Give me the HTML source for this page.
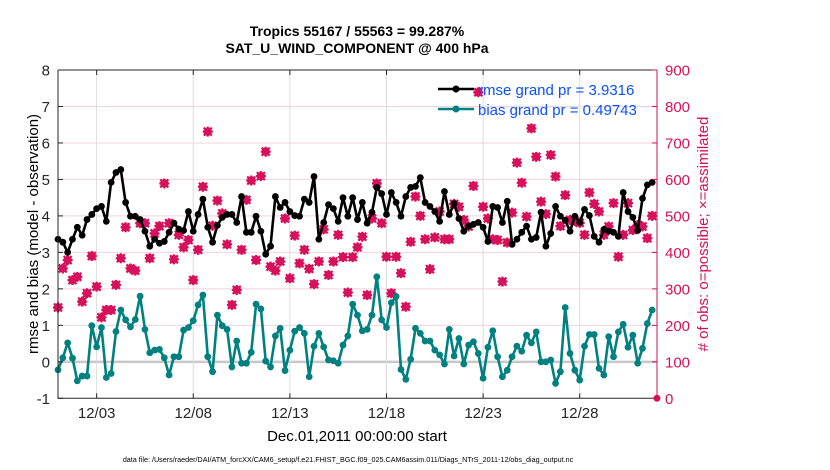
<!DOCTYPE html>
<html><head><meta charset="utf-8"><style>
body{margin:0;background:#fff;}
svg{display:block;font-family:"Liberation Sans",Arial,sans-serif;}
</style></head><body>
<svg id="chart" width="830" height="470" viewBox="0 0 830 470" xmlns="http://www.w3.org/2000/svg">
<rect width="830" height="470" fill="#fff"/>
<text x="357" y="36" text-anchor="middle" font-size="14" font-weight="bold">Tropics 55167 / 55563 = 99.287%</text>
<text x="357" y="53" text-anchor="middle" font-size="14" font-weight="bold">SAT_U_WIND_COMPONENT @ 400 hPa</text>
<g id="grid"></g>
<g id="marks"></g>
<g id="axes"></g>
<text transform="translate(38,234) rotate(-90)" text-anchor="middle" font-size="15">rmse and bias (model - observation)</text>
<text transform="translate(708,234) rotate(-90)" text-anchor="middle" font-size="15" fill="#d6105a"># of obs: o=possible; ×=assimilated</text>
<text x="357" y="441" text-anchor="middle" font-size="15">Dec.01,2011 00:00:00 start</text>
<text x="348" y="462" text-anchor="middle" font-size="7.2">data file: /Users/raeder/DAI/ATM_forcXX/CAM6_setup/f.e21.FHIST_BGC.f09_025.CAM6assim.011/Diags_NTrS_2011-12/obs_diag_output.nc</text>
<g id="legend">
  <line x1="438" y1="89" x2="474" y2="89" stroke="#000" stroke-width="2.5"/>
  <circle cx="456" cy="89" r="3.5" fill="#000"/>
  <text x="478" y="95" font-size="15" fill="#0a50ff">rmse grand pr = 3.9316</text>
  <line x1="438" y1="109" x2="474" y2="109" stroke="#008080" stroke-width="2.5"/>
  <circle cx="456" cy="109" r="3.5" fill="#008080"/>
  <text x="478" y="115" font-size="15" fill="#0a50ff">bias grand pr = 0.49743</text>
</g>
</svg>
<script>
const rmse=[3.36,3.28,3.0,3.36,3.69,3.47,3.9,4.04,4.2,4.26,3.85,4.92,5.19,5.27,4.37,3.99,3.99,3.9,3.58,3.17,3.36,3.25,3.3,3.55,3.8,3.64,3.6,4.12,3.58,4.04,4.46,
3.69,3.28,3.74,3.96,4.04,4.04,3.82,4.53,3.55,3.55,3.99,3.58,2.95,3.17,4.53,4.23,4.37,4.12,4.01,3.99,4.46,4.37,5.08,3.36,3.82,4.31,4.2,3.85,4.5,3.99,
4.5,3.9,4.37,3.8,4.1,4.78,4.61,4.04,4.64,4.37,3.99,4.53,4.78,4.81,5.05,4.37,4.26,4.12,3.85,4.67,4.04,4.34,3.93,3.58,3.72,3.77,3.82,3.69,3.3,4.26,
4.23,3.82,4.4,3.22,3.36,3.55,3.72,3.36,3.41,4.1,3.17,3.52,4.26,3.99,3.88,3.58,3.99,3.82,4.18,4.01,3.44,3.28,3.63,3.58,3.55,3.44,4.64,4.12,
3.96,3.6,4.48,4.85,4.92];
const bias=[-0.22,0.11,0.52,0.1,-0.52,-0.39,-0.39,0.99,0.41,0.94,-0.43,-0.32,0.83,1.42,1.15,0.96,1.16,1.8,0.89,0.25,0.32,0.34,0.11,-0.36,0.14,0.14,0.87,0.94,1.13,1.56,1.83,
0.14,-0.27,1.28,0.99,0.89,-0.14,0.57,-0.04,-0.04,0.26,1.58,1.45,0.02,-0.14,0.71,0.92,-0.24,0.32,0.84,0.94,0.78,-0.41,0.43,0.78,0.41,0.05,0.03,-0.04,0.46,0.71,
1.58,1.28,0.85,0.89,1.28,2.33,1.15,0.94,1.62,1.79,-0.21,-0.48,0.07,0.92,0.78,0.57,0.57,0.32,0.19,-0.06,0.89,0.16,0.64,-0.06,0.46,0.55,0.23,-0.45,0.4,0.85,
0.14,-0.41,-0.23,0.14,0.43,0.29,0.73,0.52,0.82,0.0,0.0,0.05,-0.59,-0.27,1.49,0.23,-0.23,-0.5,0.43,0.75,0.75,-0.18,-0.36,0.69,0.14,0.82,1.03,0.4,
0.73,-0.04,0.37,1.05,1.42];
const nPossible=[249,356,379,324,333,265,288,390,306,222,242,242,311,384,469,356,350,480,480,384,452,472,589,480,381,448,414,434,324,407,580,
731,473,542,507,422,256,297,407,544,597,379,609,676,361,350,375,493,329,446,370,407,355,313,375,463,338,375,448,387,290,
387,414,443,283,493,589,480,388,288,388,343,251,429,553,500,436,354,441,512,436,436,533,525,489,471,582,839,525,493,436,
434,320,427,509,646,591,498,740,662,539,505,667,608,472,557,489,486,481,448,564,533,512,448,471,535,388,448,535,
461,475,471,439,500];
const nAssim=nPossible.slice();
const yTicks=[-1,0,1,2,3,4,5,6,7,8];
const rTicks=[0,100,200,300,400,500,600,700,800,900];
const xTickDays=[2,7,12,17,22,27];
const xTickLabels=["12/03","12/08","12/13","12/18","12/23","12/28"];

const L=58,R=657,T=70,B=398.3,NS="http://www.w3.org/2000/svg";
const xDay=d=>L+(d/31)*(R-L);
const xIdx=i=>xDay(i*0.25);
const yL=v=>B-(v+1)/9*(B-T);
const yR=v=>B-v/900*(B-T);
function mk(tag,attrs,parent){const e=document.createElementNS(NS,tag);for(const k in attrs)e.setAttribute(k,attrs[k]);parent.appendChild(e);return e;}
const grid=document.getElementById('grid'),marks=document.getElementById('marks'),axes=document.getElementById('axes');

rTicks.forEach(v=>{if(v===0||v===900)return;
  const ln=mk('line',{x1:L,x2:R,y1:yR(v),y2:yR(v),stroke:v===100?'#c8c8c8':'#f4d2df','stroke-width':v===100?2.5:1},grid);
  
  
});
xTickDays.forEach(d=>{
  const ln=mk('line',{x1:xDay(d),x2:xDay(d),y1:T,y2:B,stroke:'#dcdcdc','stroke-width':1},grid);
  
  
});

// obs count markers
const red='#d6105a';
nPossible.forEach((v,i)=>{
  const x=xIdx(i),y=yR(v);
  const c=mk('circle',{cx:x,cy:y,r:3.2,fill:'none',stroke:red,'stroke-width':2},marks);
  
  
});
nAssim.forEach((v,i)=>{
  const x=xIdx(i),y=yR(v),s=4;
  const p=mk('path',{d:`M${x-s},${y-s}L${x+s},${y+s}M${x-s},${y+s}L${x+s},${y-s}M${x},${y-s-1}L${x},${y+s+1}M${x-s-1},${y}L${x+s+1},${y}`,stroke:red,'stroke-width':2.2},marks);
  
  
});
const zc=mk('circle',{cx:R,cy:yR(0),r:3.5,fill:red},marks);



function series(arr,color,name){
  const pts=arr.map((v,i)=>xIdx(i).toFixed(1)+','+yL(v).toFixed(1)).join(' ');
  const pl=mk('polyline',{points:pts,fill:'none',stroke:color,'stroke-width':2.6,'stroke-linejoin':'round'},marks);
  
  
  arr.forEach((v,i)=>{
    const c=mk('circle',{cx:xIdx(i),cy:yL(v),r:3.4,fill:color},marks);
    
    
  });
}
series(bias,'#008080','bias');
series(rmse,'#000000','rmse');

// axes
const box=mk('path',{d:`M${L},${T}L${R},${T}M${L},${T}L${L},${B}L${R},${B}`,stroke:'#262626','stroke-width':1,fill:'none'},axes);


const rax=mk('line',{x1:R,x2:R,y1:T,y2:B,stroke:red,'stroke-width':1},axes);


yTicks.forEach(v=>{
  const y=yL(v);
  mk('line',{x1:L,x2:L+5,y1:y,y2:y,stroke:'#262626'},axes);
  const t=mk('text',{x:L-8,y:y+5.5,'text-anchor':'end','font-size':15,fill:'#262626'},axes);
  t.textContent=v;
  
  
});
rTicks.forEach(v=>{
  const y=yR(v);
  mk('line',{x1:R-5,x2:R,y1:y,y2:y,stroke:red},axes);
  const t=mk('text',{x:R+8,y:y+5.5,'font-size':15,fill:red},axes);
  t.textContent=v;
  
  
});
xTickDays.forEach((d,k)=>{
  const x=xDay(d);
  mk('line',{x1:x,x2:x,y1:B,y2:B-5,stroke:'#262626'},axes);
  mk('line',{x1:x,x2:x,y1:T,y2:T+5,stroke:'#262626'},axes);
  const t=mk('text',{x:x,y:418,'text-anchor':'middle','font-size':15,fill:'#262626'},axes);
  t.textContent=xTickLabels[k];
  
  
});
</script>
</body></html>
